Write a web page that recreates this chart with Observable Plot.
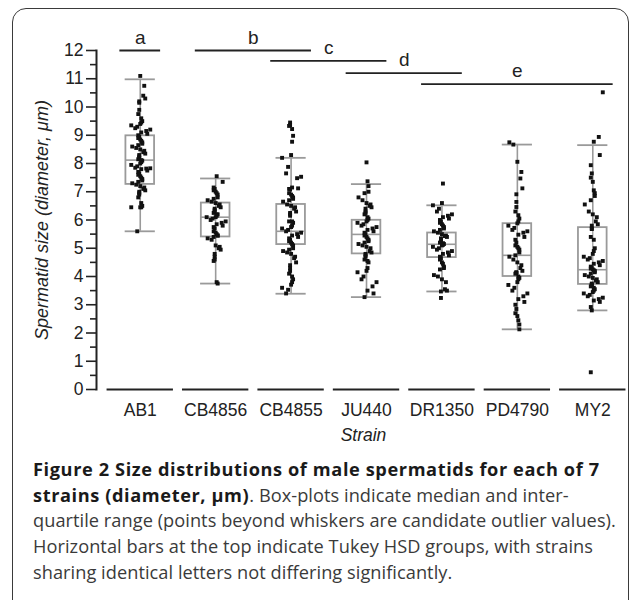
<!DOCTYPE html>
<html><head><meta charset="utf-8">
<script src="https://cdn.jsdelivr.net/npm/d3@7"></script>
<script src="https://cdn.jsdelivr.net/npm/@observablehq/plot@0.6"></script>
<style>
html,body{margin:0;padding:0;background:#fff;}
body{width:633px;height:600px;overflow:hidden;position:relative;}
#frame{position:absolute;left:12px;top:8px;width:617px;height:640px;border:1.5px solid #3a3a3a;border-radius:14px;box-sizing:border-box;}
#chart{position:absolute;left:0;top:0;}
#caption{position:absolute;left:33px;top:457px;font-family:"Open Sans",sans-serif;font-size:18.2px;line-height:25.7px;color:#3a3a3a;white-space:nowrap;letter-spacing:0.05px;}
#caption b{color:#1a1a1a;letter-spacing:0.6px;}
</style></head><body>
<div id="frame"></div>
<div id="chart"></div>
<div id="caption"><b>Figure 2 Size distributions of male spermatids for each of 7<br>strains (diameter, µm)</b>. Box-plots indicate median and inter-<br>quartile range (points beyond whiskers are candidate outlier values).<br>Horizontal bars at the top indicate Tukey HSD groups, with strains<br>sharing identical letters not differing significantly.</div>
<script>
const strains = ["AB1", "CB4856", "CB4855", "JU440", "DR1350", "PD4790", "MY2"];

// box-plot statistics (µm)
const q1 = [7.26, 5.40, 5.13, 4.80, 4.67, 4.00, 3.72];
const median = [8.12, 6.10, 5.60, 5.49, 5.14, 4.75, 4.24];
const q3 = [8.98, 6.60, 6.55, 5.99, 5.54, 5.87, 5.73];
const whiskerLow = [5.60, 3.75, 3.39, 3.27, 3.47, 2.13, 2.80];
const whiskerHigh = [10.98, 7.47, 8.20, 7.27, 6.52, 8.67, 8.65];

// individual spermatid sizes (µm)
const sizesAB1 = [11.1, 10.75, 10.4, 10.3, 10.2, 10.15, 9.9, 9.75, 9.6, 9.5, 9.45, 9.4, 9.35, 9.3, 9.25, 9.2, 9.15, 9.1, 9.05, 9.0, 8.95, 8.9, 8.85, 8.8, 8.75, 8.7, 8.65, 8.6, 8.55, 8.5, 8.45, 8.4, 8.35, 8.3, 8.25, 8.2, 8.15, 8.12, 8.1, 8.05, 8.0, 7.95, 7.9, 7.85, 7.83, 7.82, 7.8, 7.75, 7.7, 7.65, 7.6, 7.55, 7.5, 7.45, 7.4, 7.35, 7.3, 7.25, 7.2, 7.15, 7.1, 7.05, 7.0, 6.95, 6.9, 6.8, 6.6, 6.5, 6.45, 6.45, 6.45, 5.6];
const sizesCB4856 = [7.55, 7.35, 7.15, 7.1, 7.05, 7.0, 6.95, 6.9, 6.8, 6.75, 6.7, 6.65, 6.6, 6.55, 6.5, 6.45, 6.4, 6.35, 6.3, 6.25, 6.2, 6.2, 6.15, 6.1, 6.1, 6.05, 6.0, 5.95, 5.9, 5.85, 5.8, 5.75, 5.7, 5.6, 5.55, 5.5, 5.45, 5.45, 5.4, 5.35, 5.3, 5.1, 5.05, 5.0, 4.95, 4.8, 4.7, 4.6, 4.55, 3.8, 3.75];
const sizesCB4855 = [9.45, 9.36, 9.33, 9.22, 8.98, 8.77, 8.3, 8.2, 7.88, 7.65, 7.53, 7.48, 7.15, 7.12, 7.1, 7.08, 6.95, 6.9, 6.85, 6.8, 6.75, 6.7, 6.65, 6.55, 6.5, 6.45, 6.4, 6.3, 6.25, 6.2, 6.15, 5.95, 5.95, 5.9, 5.8, 5.75, 5.7, 5.65, 5.6, 5.55, 5.5, 5.45, 5.4, 5.35, 5.3, 5.25, 5.2, 5.15, 5.1, 5.0, 4.95, 4.9, 4.85, 4.8, 4.7, 4.65, 4.5, 4.4, 4.3, 4.2, 4.1, 4.0, 3.9, 3.8, 3.71, 3.6, 3.53, 3.4];
const sizesJU440 = [8.04, 7.37, 7.2, 7.0, 6.95, 6.8, 6.7, 6.6, 6.55, 6.5, 6.45, 6.4, 6.3, 6.25, 6.2, 6.1, 6.05, 6.0, 5.95, 5.9, 5.85, 5.8, 5.75, 5.7, 5.65, 5.6, 5.55, 5.5, 5.45, 5.4, 5.35, 5.3, 5.25, 5.2, 5.15, 5.1, 5.05, 5.0, 4.9, 4.85, 4.8, 4.75, 4.7, 4.6, 4.55, 4.5, 4.3, 4.2, 4.15, 4.0, 3.9, 3.8, 3.65, 3.5, 3.4, 3.27];
const sizesDR1350 = [7.29, 6.6, 6.52, 6.4, 6.3, 6.2, 6.15, 6.1, 6.05, 6.0, 5.95, 5.9, 5.85, 5.8, 5.75, 5.7, 5.65, 5.6, 5.55, 5.5, 5.45, 5.43, 5.4, 5.35, 5.3, 5.25, 5.2, 5.18, 5.15, 5.12, 5.1, 5.05, 5.0, 4.95, 4.9, 4.85, 4.8, 4.75, 4.7, 4.65, 4.6, 4.5, 4.45, 4.35, 4.3, 4.25, 4.05, 4.0, 3.9, 3.8, 3.55, 3.5, 3.47, 3.24];
const sizesPD4790 = [8.75, 8.67, 8.06, 7.7, 7.47, 7.12, 6.91, 6.64, 6.46, 6.3, 6.17, 6.05, 5.95, 5.88, 5.8, 5.72, 5.65, 5.6, 5.55, 5.48, 5.4, 5.3, 5.2, 5.1, 5.05, 5.0, 4.95, 4.85, 4.75, 4.7, 4.6, 4.5, 4.4, 4.3, 4.2, 4.15, 4.14, 4.12, 4.1, 4.0, 3.95, 3.9, 3.8, 3.7, 3.6, 3.5, 3.4, 3.3, 3.2, 3.1, 3.0, 2.85, 2.7, 2.6, 2.45, 2.3, 2.13];
const sizesMY2 = [10.52, 8.94, 8.77, 8.3, 7.94, 7.65, 7.5, 7.35, 7.05, 6.95, 6.85, 6.7, 6.55, 6.3, 6.2, 6.1, 5.95, 5.85, 5.8, 5.7, 5.68, 5.4, 5.3, 5.0, 4.9, 4.8, 4.7, 4.65, 4.6, 4.55, 4.5, 4.45, 4.4, 4.35, 4.3, 4.28, 4.25, 4.22, 4.2, 4.15, 4.1, 4.05, 4.0, 3.95, 3.9, 3.85, 3.8, 3.75, 3.72, 3.7, 3.65, 3.6, 3.55, 3.5, 3.45, 3.4, 3.35, 3.3, 3.25, 3.2, 3.15, 3.1, 2.92, 2.8, 0.61];

// Tukey HSD groups
const groupLetters = ["a", "b", "c", "d", "e"];
const groupFrom = ["AB1", "CB4856", "CB4855", "JU440", "DR1350"];
const groupTo = ["AB1", "CB4855", "JU440", "DR1350", "MY2"];
const groupLevel = [12.0, 12.0, 11.63, 11.2, 10.81];

// axis ticks & labels
const majorTicks = [0, 1, 2, 3, 4, 5, 6, 7, 8, 9, 10, 11, 12];
const minorTicks = [0.5, 1.5, 2.5, 3.5, 4.5, 5.5, 6.5, 7.5, 8.5, 9.5, 10.5, 11.5];
const yTitle = "Spermatid size (diameter, μm)";
const xTitle = "Strain";

// ---- build ----
const allSizes = [sizesAB1, sizesCB4856, sizesCB4855, sizesJU440, sizesDR1350, sizesPD4790, sizesMY2];
const idx = strains.map((_, i) => i);
const jitterPx = [0, 2, -2, 1, -3, 2, -1, 4, -2, 0, 7, -5, 1, -1, 3, -8, 1, -2, 10, 0, -2, 5, -4, 2, -1, 6, -9, 1, -1];
const STEP = 75.4; // px per category
const points = [];
allSizes.forEach((vals, i) => vals.forEach((v, k) => points.push({i, v, x: i + jitterPx[(k * 7 + i * 3) % jitterPx.length] / STEP})));
const groups = groupLetters.map((l, g) => ({l, a: strains.indexOf(groupFrom[g]), b: strains.indexOf(groupTo[g]), y: groupLevel[g]}));

const gray = "#9a9a9a";
const boxHalf = 0.19, capHalf = 0.2;

const chart = Plot.plot({
  width: 633, height: 460,
  marginLeft: 96, marginRight: 3, marginTop: 50, marginBottom: 71,
  x: {domain: [-0.58, 6.5], axis: null},
  y: {domain: [0, 12], axis: null},
  style: {fontFamily: "'Liberation Sans', Arial, sans-serif", fontSize: "17.5px", color: "#222", background: "transparent", overflow: "visible"},
  marks: [
    Plot.frame({anchor: "left", stroke: "#222", strokeWidth: 2}),
    Plot.axisY({ticks: majorTicks, tickSize: 10, tickPadding: 3, strokeWidth: 1.6, stroke: "#222", label: null, fontSize: 17.5, fill: "#222"}),
    Plot.axisY({ticks: minorTicks, tickSize: 6, strokeWidth: 1.6, stroke: "#222", tickFormat: () => "", label: null}),
    Plot.ruleY(idx, {y: () => 0, x1: i => i - 0.44, x2: i => i + 0.44, stroke: "#222", strokeWidth: 2}),
    Plot.axisX({ticks: idx, tickSize: 0, tickPadding: 14, tickFormat: i => strains[i], label: null, fontSize: 17.5, fill: "#222"}),
    Plot.text([xTitle], {frameAnchor: "bottom", dy: 51, fontStyle: "italic", fontSize: 17.5, fill: "#222"}),
    Plot.text([yTitle], {frameAnchor: "left", textAnchor: "middle", lineAnchor: "middle", dx: -54, rotate: -90, fontStyle: "italic", fontSize: 18, fill: "#222"}),
    // whiskers
    Plot.ruleX(idx, {x: i => i, y1: i => whiskerLow[i], y2: i => whiskerHigh[i], stroke: gray, strokeWidth: 1.6}),
    Plot.ruleY(idx, {y: i => whiskerLow[i], x1: i => i - capHalf, x2: i => i + capHalf, stroke: gray, strokeWidth: 1.8}),
    Plot.ruleY(idx, {y: i => whiskerHigh[i], x1: i => i - capHalf, x2: i => i + capHalf, stroke: gray, strokeWidth: 1.8}),
    // boxes
    Plot.rect(idx, {x1: i => i - boxHalf, x2: i => i + boxHalf, y1: i => q1[i], y2: i => q3[i], fill: "white", stroke: gray, strokeWidth: 1.8}),
    Plot.ruleY(idx, {y: i => median[i], x1: i => i - boxHalf, x2: i => i + boxHalf, stroke: gray, strokeWidth: 1.6}),
    Plot.ruleX(idx, {x: i => i, y1: i => q1[i], y2: i => q3[i], stroke: gray, strokeWidth: 1.2}),
    // points
    Plot.dot(points, {x: "x", y: "v", symbol: "square", r: 2.2, fill: "#111", stroke: "none"}),
    // Tukey groups
    Plot.ruleY(groups, {y: "y", x1: d => d.a - 0.27, x2: d => d.b + 0.27, stroke: "#222", strokeWidth: 1.8}),
    Plot.text(groups, {x: d => (d.a + d.b) / 2, y: "y", text: "l", lineAnchor: "bottom", dy: -7, fontSize: 19, fill: "#222"})
  ]
});
document.getElementById("chart").appendChild(chart);
</script>
</body></html>
